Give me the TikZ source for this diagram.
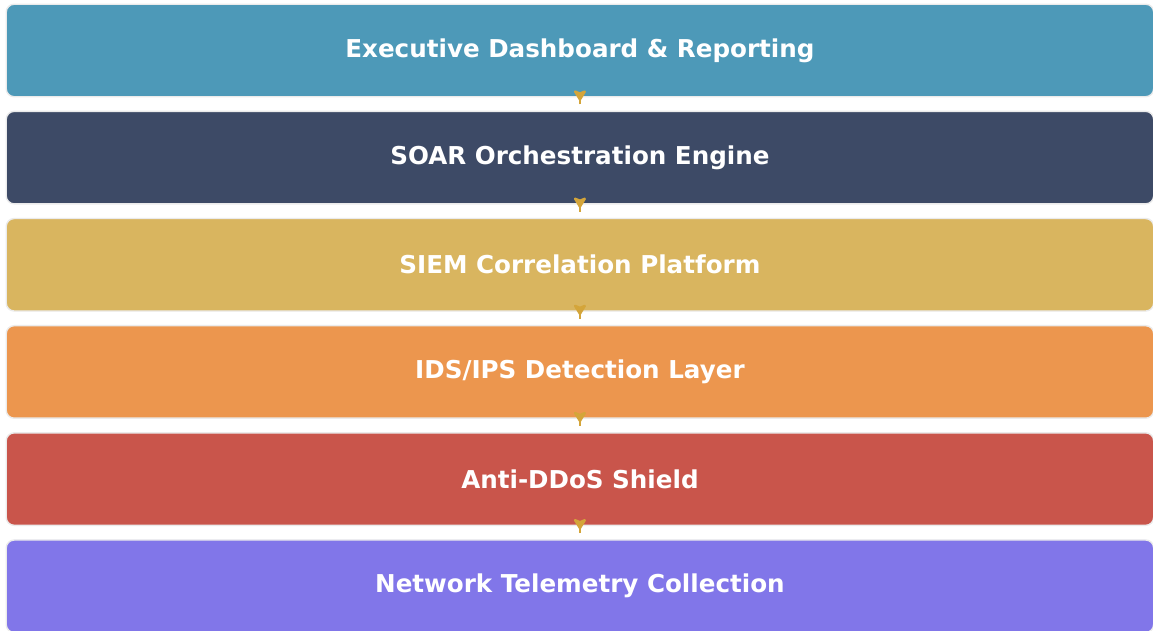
\documentclass[tikz,border=0pt]{standalone}
\usepackage{fontspec}
\setmainfont{DejaVu Sans}
\usepackage{xcolor}
\usepackage{tikz}
\usetikzlibrary{positioning,arrows.meta}

\definecolor{dashblue}{HTML}{4D99B8}
\definecolor{soarnavy}{HTML}{3D4A66}
\definecolor{siemgold}{HTML}{D9B55F}
\definecolor{idsorange}{HTML}{EC964E}
\definecolor{ddosred}{HTML}{C9554B}
\definecolor{netviolet}{HTML}{8176E9}
\definecolor{flowgold}{HTML}{D4A53A}

\begin{document}
\begin{tikzpicture}[node distance=0.265cm,
    layer/.style={rectangle, rounded corners=0.16cm, minimum width=22.95cm, minimum height=1.85cm,
        draw=black!8, line width=0.8pt, text=white, font=\fontsize{14}{17}\selectfont\bfseries},
    flow/.style={draw=flowgold, line width=1.6pt, -{Stealth[length=0.25cm, width=0.3cm, inset=0.06cm, round]},
        shorten >=0.2cm, shorten <=-0.14cm}]
\useasboundingbox (0,0) rectangle (23.06,-12.6);
\node[layer, fill=dashblue, anchor=north west] (report) at (0.11,-0.07) {Executive Dashboard \& Reporting};
\node[layer, fill=soarnavy, below=of report] (soar) {SOAR Orchestration Engine};
\node[layer, fill=siemgold, below=of soar] (siem) {SIEM Correlation Platform};
\node[layer, fill=idsorange, below=of siem] (ids) {IDS/IPS Detection Layer};
\node[layer, fill=ddosred, below=of ids] (ddos) {Anti-DDoS Shield};
\node[layer, fill=netviolet, below=of ddos] (telemetry) {Network Telemetry Collection};

\draw[flow] (report) -- (soar);
\draw[flow] (soar) -- (siem);
\draw[flow] (siem) -- (ids);
\draw[flow] (ids) -- (ddos);
\draw[flow] (ddos) -- (telemetry);
\end{tikzpicture}
\end{document}
